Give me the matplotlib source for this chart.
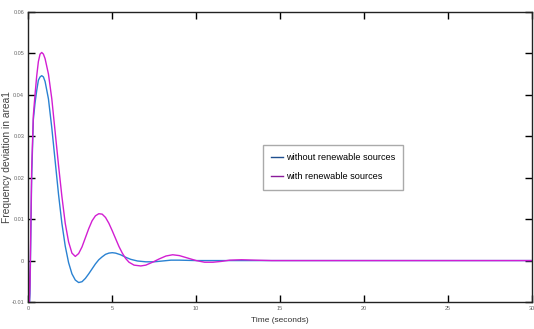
import matplotlib
matplotlib.use("Agg")
import matplotlib.pyplot as plt
from matplotlib.lines import Line2D

plt.rcParams['font.family'] = ['Liberation Sans', 'DejaVu Sans']

# time axis (seconds) and responses
t_without = [0, 0.05, 0.1, 0.2, 0.3, 0.4, 0.5, 0.6, 0.7, 0.8, 0.9, 1.0, 1.2, 1.4,
             1.6, 1.8, 2.0, 2.2, 2.4, 2.6, 2.8, 3.0, 3.2, 3.4, 3.6, 3.8, 4.0, 4.2,
             4.4, 4.6, 4.8, 5.0, 5.2, 5.5, 5.8, 6.1, 6.5, 7.0, 7.5, 8.0, 8.5, 9.0,
             10, 11, 30]
without_renew = [0.0, -0.012, -0.008, 0.02, 0.034, 0.038, 0.041, 0.0435, 0.0443,
                 0.0446, 0.0443, 0.0432, 0.039, 0.032, 0.024, 0.016, 0.009, 0.0035,
                 -0.0005, -0.0032, -0.0047, -0.0053, -0.0051, -0.0043, -0.0032,
                 -0.002, -0.0008, 0.0002, 0.0009, 0.0015, 0.0018, 0.0019, 0.0018,
                 0.0014, 0.0008, 0.0003, -0.0001, -0.0003, -0.0003, -0.0001, 0.0001,
                 0.0001, 0.0, 0.0, 0.0]

t_with = [0, 0.05, 0.1, 0.2, 0.3, 0.4, 0.5, 0.6, 0.7, 0.8, 0.9, 1.0, 1.2, 1.4, 1.6,
          1.8, 2.0, 2.2, 2.4, 2.6, 2.8, 3.0, 3.2, 3.4, 3.6, 3.8, 4.0, 4.2, 4.4, 4.6,
          4.8, 5.0, 5.2, 5.4, 5.6, 5.8, 6.0, 6.3, 6.7, 7.0, 7.4, 7.8, 8.2, 8.6, 9.0,
          9.5, 10.0, 10.5, 11.0, 11.5, 12.0, 12.7, 13.5, 14.5, 30]
with_renew = [0.0, -0.012, -0.006, 0.022, 0.035, 0.040, 0.0445, 0.048, 0.0498,
              0.0502, 0.0498, 0.0487, 0.045, 0.039, 0.031, 0.023, 0.0155, 0.009,
              0.0045, 0.0018, 0.001, 0.0017, 0.0033, 0.0055, 0.0077, 0.0096, 0.0108,
              0.0113, 0.0112, 0.0104, 0.009, 0.0072, 0.0053, 0.0034, 0.0018, 0.0005,
              -0.0004, -0.0011, -0.0013, -0.0011, -0.0004, 0.0004, 0.0011, 0.0014,
              0.0012, 0.0006, 0.0, -0.0004, -0.0004, -0.0002, 0.0001, 0.0002, 0.0001,
              0.0, 0.0]

x_ticks = [0, 5, 10, 15, 20, 25, 30]
y_ticks = [-0.01, 0, 0.01, 0.02, 0.03, 0.04, 0.05, 0.06]
y_tick_labels = ['-0.01', '0', '0.01', '0.02', '0.03', '0.04', '0.05', '0.06']
legend_labels = ['without renewable sources', 'with renewable sources']

fig = plt.figure(figsize=(5.34, 3.29), dpi=100)
ax = fig.add_axes([0.053, 0.082, 0.943, 0.882])

ax.plot(t_without, without_renew, color='#2a82d2', lw=1.0)
ax.plot(t_with, with_renew, color='#d21ed2', lw=1.0)

ax.set_xlim(0, 30)
ax.set_ylim(-0.01, 0.06)
ax.set_xticks(x_ticks)
ax.set_xticklabels([str(v) for v in x_ticks])
ax.set_yticks(y_ticks)
ax.set_yticklabels(y_tick_labels)
ax.tick_params(direction='in', length=5, width=1, top=True, right=True,
               labelsize=4, labelcolor='#666666', pad=3)
for s in ax.spines.values():
    s.set_linewidth(1)
    s.set_color('#222222')

ax.set_xlabel('Time (seconds)', fontsize=6, color='#333333', labelpad=4)
ax.set_ylabel('Frequency deviation in area1', fontsize=7.4, color='#444444')
ax.yaxis.set_label_coords(-0.033, 0.5)

# legend line colours differ from the plotted ones in the original
handles = [Line2D([], [], color='#1f4f8f', lw=1),
           Line2D([], [], color='#8a1a9a', lw=1)]
ax.legend(handles, legend_labels, loc='center', bbox_to_anchor=(0.605, 0.464),
          fontsize=6.6, handlelength=1.3, handletextpad=0.3, labelspacing=1.1,
          borderpad=0.9, frameon=True, fancybox=False, edgecolor='#aaaaaa',
          framealpha=1)

fig.savefig('out.png', dpi=100)
